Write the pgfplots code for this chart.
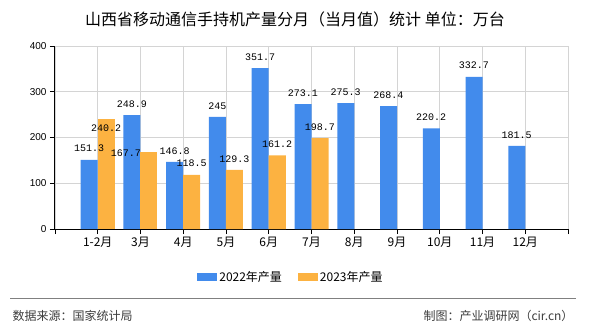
\documentclass[border=0pt]{standalone}
\usepackage{pgfplots}
\pgfplotsset{compat=1.18}
\usepackage{fontspec}
\setmainfont{Noto Sans CJK SC}
\newfontfamily\monofont{Liberation Mono}
\newfontfamily\sansfont{Liberation Sans}
\definecolor{cblue}{RGB}{66,139,236}
\definecolor{corange}{RGB}{252,178,65}
\definecolor{gridgray}{RGB}{212,212,212}
\definecolor{foot}{RGB}{60,60,60}
\begin{document}
\begin{tikzpicture}[x=1pt,y=1pt]
\path[use as bounding box] (0,0) rectangle (590,330);
\node[font=\fontsize{16}{18}\selectfont] at (295,311) {山西省移动通信手持机产量分月（当月值）统计\ 单位：万台};
\begin{axis}[
  at={(55pt,101pt)}, anchor=south west,
  width=513pt, height=183pt, scale only axis,
  xmin=0, xmax=12, ymin=0, ymax=400,
  axis x line=bottom, axis y line=left,
  axis line style={-, black, line width=1pt},
  xtick={0,...,12},
  xticklabels={,1-2月,3月,4月,5月,6月,7月,8月,9月,10月,11月,12月,},
  ytick={0,100,200,300,400},
  grid=major, major grid style={gridgray, line width=0.8pt},
  tick align=outside, major tick length=5pt,
  tick style={black, line width=0.8pt},
  /pgf/number format/assume math mode=true,
  yticklabel style={font=\sansfont\fontsize{10}{12}\selectfont},
  xticklabel style={font=\fontsize{12}{14}\selectfont},
  ybar, bar width=17pt,
  nodes near coords, point meta=explicit symbolic,
  every node near coord/.append style={font=\monofont\fontsize{10}{12}\selectfont, anchor=south, inner sep=0pt, yshift=7.5pt, black},
  legend style={at={(0.46,-0.262)}, anchor=center, legend columns=2, draw=none, font=\fontsize{12}{14}\selectfont,
    /tikz/every even column/.append style={column sep=14pt}},
  legend image code/.code={\fill[#1] (0pt,-4pt) rectangle (20pt,4pt);},
]
\addplot[fill=cblue, draw=none, bar shift=-8.5pt] coordinates {
 (1,151.3)[151.3] (2,248.9)[248.9] (3,146.8)[146.8] (4,245)[245] (5,351.7)[351.7]
 (6,273.1)[273.1] (7,275.3)[275.3] (8,268.4)[268.4] (9,220.2)[220.2] (10,332.7)[332.7] (11,181.5)[181.5]};
\addplot[fill=corange, draw=none, bar shift=8.5pt] coordinates {
 (3,118.5)[118.5] (4,129.3)[129.3] (5,161.2)[161.2] (6,198.7)[198.7]};
\addplot[fill=corange, draw=none, bar shift=8.5pt, forget plot,
  every node near coord/.append style={yshift=-20pt}] coordinates {(1,240.2)[240.2]};
\addplot[fill=corange, draw=none, bar shift=8.5pt, forget plot,
  every node near coord/.append style={xshift=-23pt, yshift=-12pt}] coordinates {(2,167.7)[167.7]};
\legend{2022年产量,2023年产量}
\end{axis}
\draw[gray, line width=1pt] (10,32) -- (576,32);
\node[anchor=west, text=foot, font=\fontsize{12}{14}\selectfont] at (9,14) {数据来源：国家统计局};
\node[anchor=east, text=foot, font=\fontsize{12}{14}\selectfont] at (577,14) {制图：产业调研网（cir.cn）};
\end{tikzpicture}
\end{document}
